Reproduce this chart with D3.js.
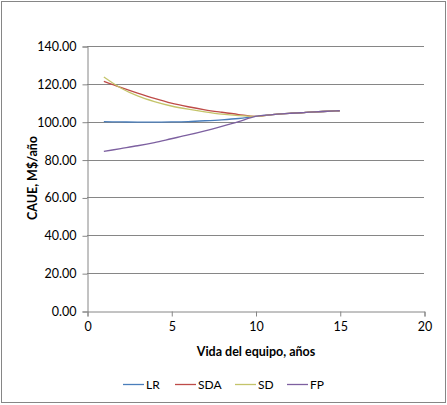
<!DOCTYPE html>
<html>
<head>
<meta charset="utf-8">
<script src="https://cdn.jsdelivr.net/npm/d3@7"></script>
<style>
	body { margin: 0; background: #fff; }
	svg { font-family: Lato, "Open Sans", sans-serif; }
	.tick text { font-size: 12.5px; fill: #000; }
	.axis-title { font-size: 12.5px; font-weight: bold; }
</style>
</head>
<body>
<svg id="chart" width="447" height="405"></svg>
<script>
var years = [1, 2, 3, 4, 5, 6, 7, 8, 9, 10, 11, 12, 13, 14, 15];
var lrValues = [100.0, 99.9, 99.8, 99.8, 99.9, 100.1, 100.5, 101.0, 101.7, 102.8, 103.7, 104.4, 104.9, 105.4, 105.8];
var sdaValues = [121.3, 118.1, 115.1, 112.3, 109.8, 107.9, 106.3, 105.0, 103.8, 102.8, 103.7, 104.4, 104.9, 105.4, 105.8];
var sdValues = [123.6, 117.8, 113.6, 110.6, 108.3, 106.6, 105.2, 104.0, 103.2, 102.8, 103.7, 104.4, 104.9, 105.4, 105.8];
var fpValues = [84.3, 85.8, 87.3, 89.0, 91.0, 93.0, 95.2, 97.6, 100.1, 102.8, 103.7, 104.4, 104.9, 105.4, 105.8];
var seriesNames = ["LR", "SDA", "SD", "FP"];
var seriesColors = ["#4A7EBB", "#BE4B48", "#C4C46A", "#7D60A0"];
var xTicks = [0, 5, 10, 15, 20];
var yTicks = [0, 20, 40, 60, 80, 100, 120, 140];

(function() {
	"use strict";

	var svg = d3.select("#chart"),
		plot = { left: 87, right: 424, top: 46, bottom: 311 },
		allValues = [lrValues, sdaValues, sdValues, fpValues],
		xScale = d3.scaleLinear().domain([0, 20]).range([plot.left, plot.right]),
		yScale = d3.scaleLinear().domain([0, 140]).range([plot.bottom, plot.top]);

	// outer frame
	svg.append("rect")
		.attr("x", 1.5).attr("y", 1.5)
		.attr("width", 444).attr("height", 401)
		.attr("fill", "#fff")
		.attr("stroke", "#868686");

	// horizontal gridlines
	svg.append("g")
		.selectAll("line")
		.data(yTicks.slice(1))
		.enter().append("line")
		.attr("x1", plot.left).attr("x2", plot.right)
		.attr("y1", function(d) { return Math.round(yScale(d)) + 0.5; })
		.attr("y2", function(d) { return Math.round(yScale(d)) + 0.5; })
		.attr("stroke", "#868686");

	var yAxis = svg.append("g")
		.attr("transform", "translate(" + (plot.left + 0.5) + ",0.5)")
		.call(d3.axisLeft(yScale).tickValues(yTicks).tickFormat(d3.format(".2f")).tickSize(5).tickPadding(6));
	var xAxis = svg.append("g")
		.attr("transform", "translate(0.5," + (plot.bottom + 0.5) + ")")
		.call(d3.axisBottom(xScale).tickValues(xTicks).tickSize(5).tickPadding(6));
	[xAxis, yAxis].forEach(function(a) {
		a.select(".domain").attr("stroke", "#868686");
		a.selectAll(".tick line").attr("stroke", "#868686");
		a.selectAll(".tick text").style("font-family", "Lato, sans-serif");
	});

	var line = d3.line()
		.x(function(d, i) { return xScale(years[i]); })
		.y(function(d) { return yScale(d); })
		.curve(d3.curveMonotoneX);

	svg.append("g")
		.selectAll("path")
		.data(allValues)
		.enter().append("path")
		.attr("d", line)
		.attr("fill", "none")
		.attr("stroke", function(d, i) { return seriesColors[i]; })
		.attr("stroke-width", 1.3);

	// axis titles
	svg.append("text")
		.attr("class", "axis-title")
		.attr("x", 256).attr("y", 356)
		.attr("text-anchor", "middle")
		.text("Vida del equipo, años");
	svg.append("text")
		.attr("class", "axis-title")
		.attr("transform", "translate(37,178) rotate(-90)")
		.attr("text-anchor", "middle")
		.text("CAUE, M$/año");

	// legend
	var legendX = [123, 175, 235, 287];
	var legend = svg.append("g")
		.selectAll("g")
		.data(seriesNames)
		.enter().append("g")
		.attr("transform", function(d, i) { return "translate(" + legendX[i] + ",384)"; });
	legend.append("line")
		.attr("x1", 0).attr("x2", 21)
		.attr("y1", 0.5).attr("y2", 0.5)
		.attr("stroke", function(d, i) { return seriesColors[i]; })
		.attr("stroke-width", 1.3);
	legend.append("text")
		.attr("x", 23).attr("y", 4.5)
		.style("font-size", "12px")
		.text(function(d) { return d; });
})();
</script>
</body>
</html>
